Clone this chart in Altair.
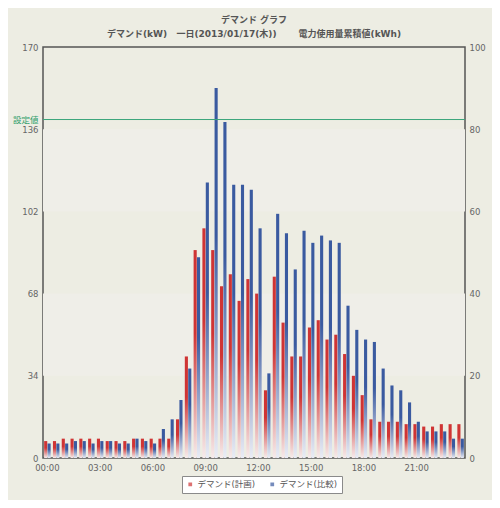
import altair as alt
import pandas as pd

slots = [
    "00:00", "00:30", "01:00", "01:30", "02:00", "02:30", "03:00", "03:30",
    "04:00", "04:30", "05:00", "05:30", "06:00", "06:30", "07:00", "07:30",
    "08:00", "08:30", "09:00", "09:30", "10:00", "10:30", "11:00", "11:30",
    "12:00", "12:30", "13:00", "13:30", "14:00", "14:30", "15:00", "15:30",
    "16:00", "16:30", "17:00", "17:30", "18:00", "18:30", "19:00", "19:30",
    "20:00", "20:30", "21:00", "21:30", "22:00", "22:30", "23:00", "23:30",
]
x_tick_labels = ["00:00", "03:00", "06:00", "09:00", "12:00", "15:00", "18:00", "21:00"]

plan_kw = [7, 7, 8, 8, 8, 8, 8, 7, 7, 7, 8, 8, 8, 8, 8, 16,
           42, 86, 95, 86, 71, 76, 65, 74, 68, 28, 75, 56, 42, 42, 54, 57,
           49, 51, 43, 34, 26, 16, 15, 15, 15, 14, 14, 13, 13, 14, 14, 14]
comp_kw = [6, 6, 6, 7, 7, 6, 7, 7, 6, 6, 8, 7, 6, 12, 16, 24,
           37, 83, 114, 153, 139, 113, 113, 111, 95, 35, 101, 93, 78, 94, 89, 92,
           90, 89, 63, 53, 49, 48, 37, 30, 28, 23, 15, 11, 11, 11, 8, 8]

series_names = ["デマンド(計画)", "デマンド(比較)"]
left_ticks = [0, 34, 68, 102, 136, 140, 170]
right_ticks = [0, 20, 40, 60, 80, 100]
band_lo = [34, 102]
band_hi = [68, 136]
setpoint = [140]

RED = "#CF3434"
BLUE = "#3A5AA0"
FONT = "DejaVu Sans, Noto Sans CJK JP"
NB = "\u00a0"

df = pd.DataFrame({
    "slot": slots * 2,
    "series": [series_names[0]] * len(slots) + [series_names[1]] * len(slots),
    "value": plan_kw + comp_kw,
})

yscale = alt.Scale(domain=[0, 170], nice=False, zero=True)
yaxis = alt.Axis(
    values=left_ticks, title=None, ticks=False, domain=False, grid=False,
    labelPadding=5, labelOverlap=False,
    labelExpr="datum.value == 140 ? '設定値' : datum.label",
    labelColor={"condition": {"test": "datum.value == 140", "value": "#2E9E6A"}, "value": "#666666"},
)
xscale = alt.Scale(domain=slots, paddingInner=0.26, paddingOuter=0.13)
xaxis = alt.Axis(values=x_tick_labels, title=None, ticks=False, domain=False,
                 labelAngle=0, labelPadding=5, grid=False)
xoff = alt.XOffset("series:N", scale=alt.Scale(domain=series_names, paddingInner=0.08))


def grad(c, bottom):
    return {"gradient": "linear", "x1": 0, "x2": 0, "y1": 0, "y2": 1,
            "stops": [{"offset": 0, "color": c},
                      {"offset": 0.4, "color": c},
                      {"offset": 1, "color": bottom}]}


bands = alt.Chart(pd.DataFrame({"lo": band_lo, "hi": band_hi})).mark_rect(
    color="#EFEEE8").encode(
    y=alt.Y("lo:Q", scale=yscale, axis=yaxis, title=None),
    y2="hi:Q",
    x=alt.value(0), x2=alt.value("width"),
)

red_bars = alt.Chart(df).transform_filter(
    alt.datum.series == series_names[0]).mark_bar(
    color=grad(RED, "#F6ECEC")).encode(
    x=alt.X("slot:O", scale=xscale, axis=xaxis, title=None),
    xOffset=xoff,
    y=alt.Y("value:Q", scale=yscale, axis=yaxis, title=None),
)
blue_bars = alt.Chart(df).transform_filter(
    alt.datum.series == series_names[1]).mark_bar(
    color=grad(BLUE, "#EAECF5")).encode(
    x=alt.X("slot:O", scale=xscale, axis=xaxis, title=None),
    xOffset=xoff,
    y=alt.Y("value:Q", scale=yscale, axis=yaxis, title=None),
)

rule = alt.Chart(pd.DataFrame({"v": setpoint})).mark_rule(
    color="#3AA57A", strokeWidth=1).encode(
    y=alt.Y("v:Q", scale=yscale, axis=yaxis, title=None),
)

legend_layer = alt.Chart(df).transform_filter("false").mark_square(
    filled=True, size=16).encode(
    color=alt.Color("series:N",
                    scale=alt.Scale(domain=series_names, range=[RED, BLUE]),
                    legend=alt.Legend(
                        orient="none", legendX=139, legendY=429,
                        direction="horizontal", title=None,
                        symbolType="square", symbolSize=14,
                        labelFontSize=8.5, labelColor="#555555", labelFont=FONT,
                        fillColor="#FFFFFF", strokeColor="#8A8A8A",
                        padding=4, columnPadding=12, labelOffset=3,
                    )),
)

inner = alt.layer(bands, red_bars, blue_bars, rule, legend_layer)

right = alt.Chart(pd.DataFrame({"r": right_ticks})).mark_point(opacity=0).encode(
    y=alt.Y("r:Q", scale=alt.Scale(domain=[0, 100], nice=False),
            axis=alt.Axis(orient="right", values=right_ticks, title=None,
                          ticks=False, domain=False, grid=False, labelPadding=4),
            title=None),
)

subtitle = ("デマンド(kW)" + NB * 3 + "一日(2013/01/17(木))" + NB * 7
            + "電力使用量累積値(kWh)")

chart = alt.layer(inner, right).resolve_scale(y="independent").properties(
    width=422, height=411,
    autosize="none",
    padding={"left": 35, "top": 39, "right": 27, "bottom": 42},
    background="#EDEDE3",
    title=alt.TitleParams(
        text="デマンド グラフ",
        subtitle=subtitle,
        anchor="middle", fontSize=9, subtitleFontSize=9,
        fontWeight="bold", subtitleFontWeight="bold",
        color="#555555", subtitleColor="#555555",
        font=FONT, subtitleFont=FONT,
        offset=4, subtitlePadding=5,
    ),
).configure_view(
    stroke="#555555", strokeWidth=1.5, fill="#FFFFFF",
).configure_axis(
    labelFont=FONT, labelFontSize=8.5, labelColor="#666666",
)

chart.save("out.html", embed_options={"renderer": "svg", "actions": False})
